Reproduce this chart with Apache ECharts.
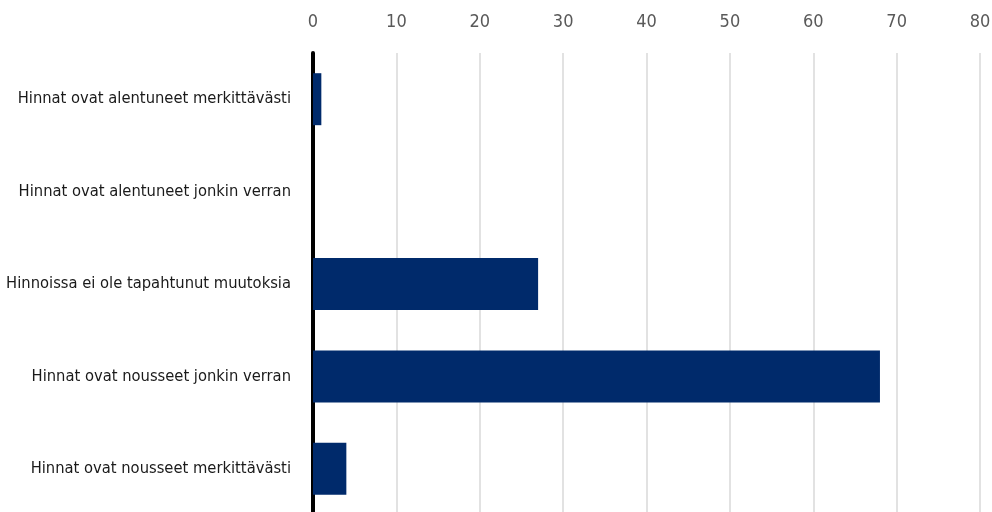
<!DOCTYPE html>
<html>
<head>
<meta charset="utf-8">
<script src="https://cdn.jsdelivr.net/npm/echarts@6/dist/echarts.min.js"></script>
<style>
html,body{margin:0;padding:0;background:#fff;}
#chart{width:992px;height:512px;}
</style>
</head>
<body>
<div id="chart"></div>
<script>
const categories = [
  "Hinnat ovat alentuneet merkittävästi",
  "Hinnat ovat alentuneet jonkin verran",
  "Hinnoissa ei ole tapahtunut muutoksia",
  "Hinnat ovat nousseet jonkin verran",
  "Hinnat ovat nousseet merkittävästi"
];
const values = [1, 0, 27, 68, 4];
const xMin = 0, xMax = 80, xStep = 10;

const FONT = '"DejaVu Sans Condensed", "Liberation Sans Narrow", sans-serif';
const chart = echarts.init(document.getElementById('chart'), null, {renderer: 'canvas'});
chart.setOption({
  animation: false,
  backgroundColor: '#ffffff',
  grid: {left: 313, right: 12, top: 53, height: 462, containLabel: false, outerBoundsMode: 'none'},
  xAxis: {
    type: 'value', position: 'top', min: xMin, max: xMax, interval: xStep,
    axisLine: {show: false}, axisTick: {show: false},
    axisLabel: {color: '#595959', fontSize: 18, fontFamily: FONT, margin: 22},
    splitLine: {show: true, lineStyle: {color: '#d9d9d9', width: 1.5}}
  },
  yAxis: {
    type: 'category', inverse: true, data: categories,
    axisLine: {show: true, lineStyle: {color: '#000000', width: 4}},
    axisTick: {show: false},
    axisLabel: {color: '#1a1a1a', fontSize: 16.4, fontFamily: FONT, margin: 22}
  },
  series: [{
    type: 'bar', data: values, barWidth: 52,
    itemStyle: {color: '#002a6b'}
  }]
});
</script>
</body>
</html>
